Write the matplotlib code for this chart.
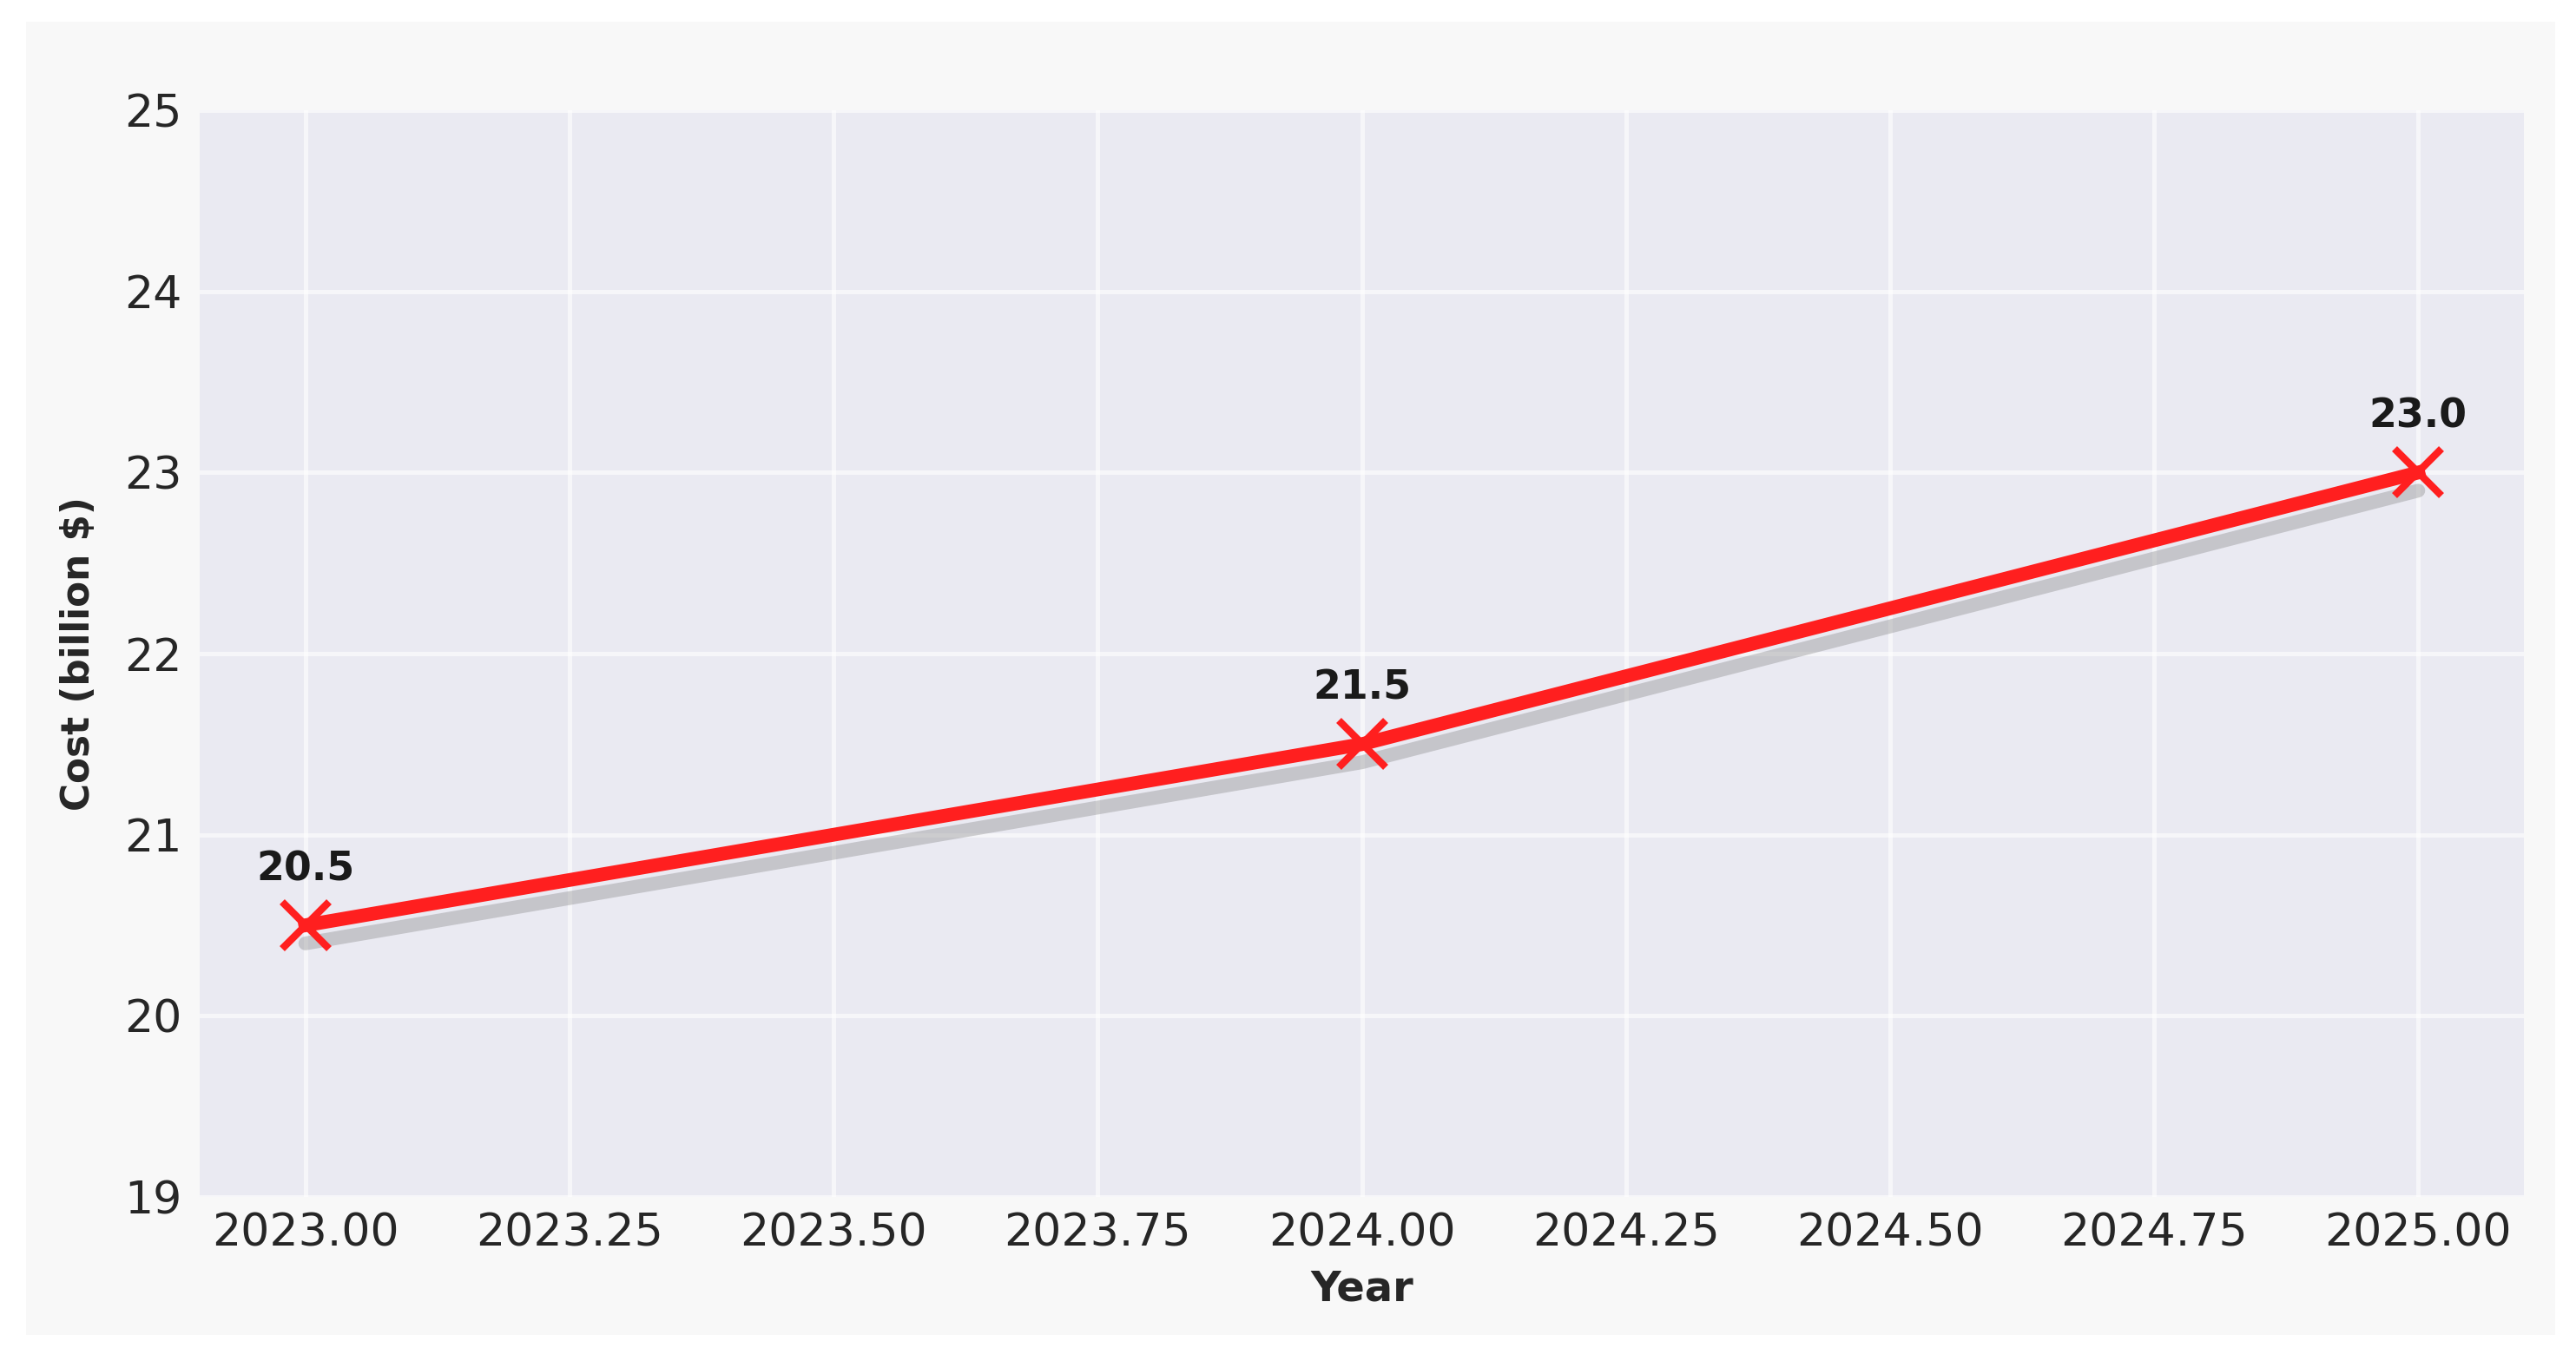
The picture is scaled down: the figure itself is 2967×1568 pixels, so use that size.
import numpy as np
import matplotlib
matplotlib.use('Agg')
import matplotlib.pyplot as plt
from matplotlib.patches import Rectangle

plt.rcParams['font.family'] = ['DejaVu Sans']

years = [2023, 2024, 2025]
cost = [20.5, 21.5, 23.0]
xticks = np.arange(2023.0, 2025.01, 0.25)
yticks = [19, 20, 21, 22, 23, 24, 25]

fig = plt.figure(figsize=(2967/300, 1568/300), dpi=300, facecolor='white')
# light grey figure panel inside a thin white margin
fig.patches.append(Rectangle((0.0101, 0.0191), 0.9818, 0.965, transform=fig.transFigure,
                             facecolor='#f8f8f8', edgecolor='none', zorder=-10))

ax = fig.add_axes([0.0775, 0.1205, 0.9023, 0.7985])
ax.set_facecolor('#eaeaf2')
for s in ax.spines.values():
    s.set_visible(False)
ax.grid(True, color='white', linewidth=1.2, alpha=0.6)
ax.set_axisbelow(True)

# shadow line
ax.plot(years, [c - 0.1 for c in cost], color='gray', alpha=0.35, linewidth=3.8,
        solid_capstyle='round', zorder=2)
ax.plot(years, cost, color='#ff1f1f', linewidth=3.8, marker='x',
        markersize=13, markeredgewidth=2.0, zorder=3)

for x, y in zip(years, cost):
    ax.annotate(f'{y:.1f}', (x, y), xytext=(0, 10), textcoords='offset points',
                ha='center', va='bottom', fontsize=11, fontweight='bold', color='#1a1a1a')

ax.set_xlim(2022.9, 2025.1)
ax.set_ylim(19, 25)
ax.set_xticks(xticks)
ax.set_xticklabels([f'{t:.2f}' for t in xticks])
ax.set_yticks(yticks)
ax.tick_params(axis='both', length=0, labelsize=12.5, labelcolor='#262626')
ax.tick_params(axis='x', pad=4.2)
ax.tick_params(axis='y', pad=4.8)

ax.set_xlabel('Year', fontsize=11.5, fontweight='bold', color='#262626', labelpad=3.5)
ax.set_ylabel('Cost (billion $)', fontsize=10.5, fontweight='bold', color='#262626', labelpad=7.5)

fig.savefig('out.png', dpi=300, facecolor=fig.get_facecolor())
